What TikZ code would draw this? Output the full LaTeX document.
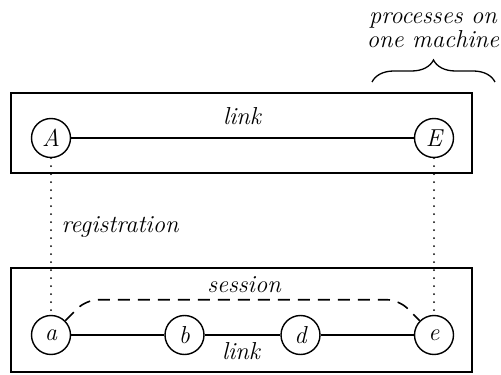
\documentclass[tikz,border=0pt]{standalone}
\usetikzlibrary{decorations.pathreplacing}

\begin{document}
\begin{tikzpicture}[x=1pt, y=1pt,
  font=\fontsize{24.5}{24}\selectfont\itshape,
  proc/.style={draw, circle, line width=1.4pt, minimum size=39pt, inner sep=0pt},
  machine/.style={draw, line width=1.6pt, inner sep=0pt},
  link/.style={line width=1.3pt},
  reg/.style={line width=2pt, line cap=round, dash pattern=on 0pt off 8pt},
  sess/.style={line width=1.6pt, dash pattern=on 12pt off 8pt, rounded corners=12pt}]
\useasboundingbox (0,0) rectangle (501,375);

% Machines
\node[machine, minimum width=461pt, minimum height=80pt] (host) at (241.5,242) {};
\node[machine, minimum width=461pt, minimum height=104pt] (net) at (241.5,55) {};

% Processes on the upper machine
\node[proc] (A) at (51,237) {A};
\node[proc] (E) at (434,237) {E};
\draw[link] (A) -- (E);
\node[anchor=base] (toplink) at (242,250) {link};

% Processes on the lower machine
\node[proc] (a) at (51,40) {a};
\node[proc] (b) at (184.5,40) {b};
\node[proc] (d) at (300.5,40) {d};
\node[proc] (e) at (434,40) {e};
\draw[link] (a) -- (b);
\draw[link] (b) -- (d);
\draw[link] (d) -- (e);
\node[anchor=base] (botlink) at (241,15) {link};

% Session
\draw[sess] (a.45) -- ++(21,21) -- ([shift={(-21,21)}]e.135) -- (e.135);
\node[anchor=base] (session) at (244,82) {session};

% Registration
\draw[reg] (A) -- (a);
\draw[reg] (E) -- (e);
\node[anchor=base west] (registration) at (58,142) {registration};

% Brace
\draw[line width=1.3pt, decorate, decoration={brace, amplitude=22pt}] (372,293) -- (495,293);
\node[align=center, anchor=south, inner sep=0pt] (note) at (433,327) {processes on\\one machine};
\end{tikzpicture}
\end{document}
